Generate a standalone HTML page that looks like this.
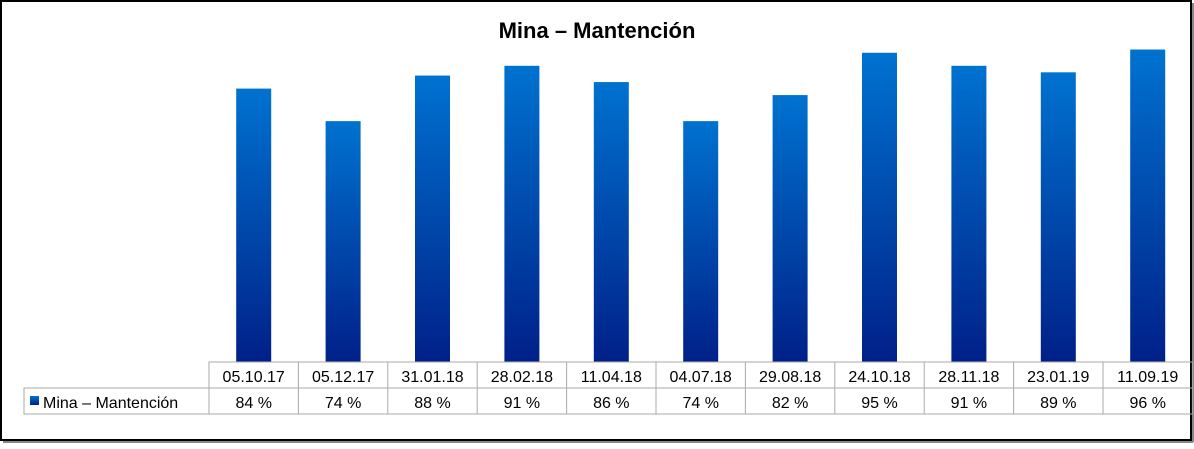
<!DOCTYPE html>
<html><head><meta charset="utf-8"><style>
body{margin:0;background:#fff;}
svg text{font-family:"Liberation Sans",sans-serif;}
</style></head><body>
<svg width="1194" height="444" xmlns="http://www.w3.org/2000/svg">
<defs><linearGradient id="g" x1="0" y1="0" x2="0" y2="1"><stop offset="0" stop-color="#0072D0"/><stop offset="1" stop-color="#002088"/></linearGradient></defs>
<rect x="1" y="1" width="1190" height="439" fill="#fff" stroke="#000" stroke-width="2"/>
<line x1="3" y1="442" x2="1193" y2="442" stroke="#888" stroke-width="2"/>
<line x1="1193" y1="3" x2="1193" y2="442" stroke="#888" stroke-width="2"/>
<text x="597" y="38" text-anchor="middle" font-size="22" font-weight="bold">Mina – Mantención</text>
<g id="bars"></g>
<g id="table"></g>
</svg>
<script>
const categories=["05.10.17","05.12.17","31.01.18","28.02.18","11.04.18","04.07.18","29.08.18","24.10.18","28.11.18","23.01.19","11.09.19"];
const values=[84,74,88,91,86,74,82,95,91,89,96];
const labels=["84 %","74 %","88 %","91 %","86 %","74 %","82 %","95 %","91 %","89 %","96 %"];
const NS="http://www.w3.org/2000/svg";
const x0=209,cw=89.4,base=362,ppu=3.255;
function xc(i){return x0+cw*i+cw/2;}
function y(v){return base-v*ppu;}
const bars=document.getElementById('bars'),tbl=document.getElementById('table');
function mk(tag,attrs,parent){const e=document.createElementNS(NS,tag);for(const k in attrs)e.setAttribute(k,attrs[k]);parent.appendChild(e);return e;}
values.forEach((v,i)=>{
 const r=mk('rect',{x:xc(i)-17.5,y:y(v),width:35,height:base-y(v),fill:'url(#g)'},bars);
 
 
});
const st={stroke:'#aaa','stroke-width':1,fill:'none'};
mk('rect',{x:x0,y:362,width:cw*categories.length,height:26,...st},tbl);
mk('rect',{x:24,y:388,width:x0-24+cw*categories.length,height:26,...st},tbl);
mk('line',{x1:x0,y1:362,x2:x0,y2:414,stroke:'#aaa'},tbl);
categories.forEach((c,i)=>{
 if(i>0)mk('line',{x1:x0+cw*i,y1:362,x2:x0+cw*i,y2:414,stroke:'#aaa'},tbl);
 const t=mk('text',{x:xc(i),y:382,'text-anchor':'middle','font-size':16},tbl);t.textContent=c;
 
 
 const t2=mk('text',{x:xc(i),y:408,'text-anchor':'middle','font-size':16},tbl);t2.textContent=labels[i];
 
 
});
const lk=mk('rect',{x:30,y:396,width:9,height:9,fill:'url(#g)'},tbl);


const lt=mk('text',{x:43,y:408,'font-size':16},tbl);lt.textContent='Mina – Mantención';


</script>
</body></html>
